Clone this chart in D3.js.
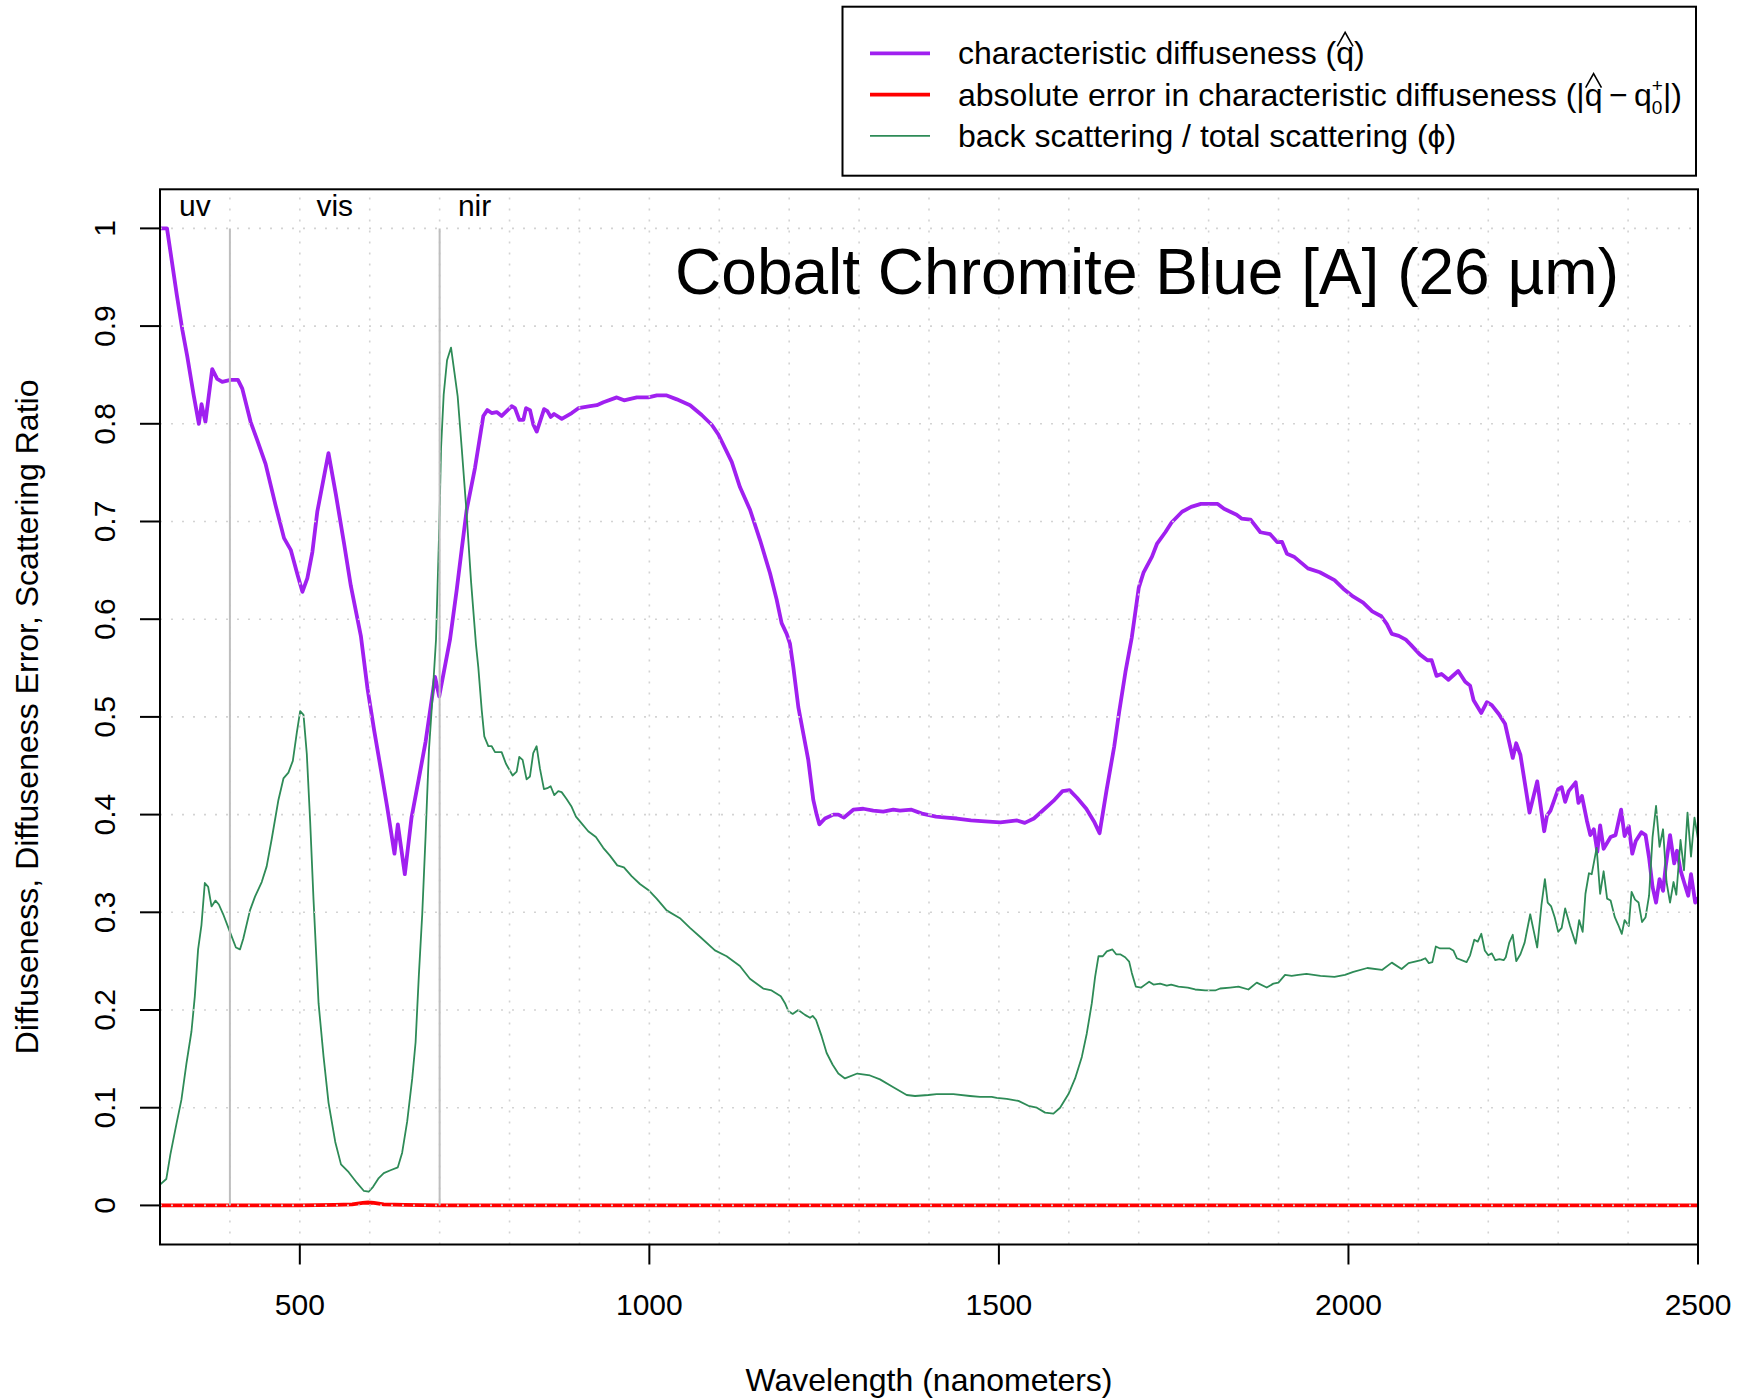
<!DOCTYPE html>
<html>
<head>
<meta charset="utf-8">
<script src="https://cdn.jsdelivr.net/npm/d3@7"></script>
<style>
  body { margin: 0; background: #ffffff; }
  text { font-family: "Liberation Sans", Arial, Helvetica, sans-serif; fill: #000; }
</style>
</head>
<body>
<svg id="chart" width="1745" height="1399"></svg>
<script>
// Characteristic diffuseness q-hat (wavelength in nm, value)
const qhatNm = [300, 310, 316, 324, 332, 339, 348, 355.6, 359.4, 365, 374.7, 381.8, 389, 401, 411.5, 417.7, 429.6, 439.2, 451, 465.5,
  477.4, 487, 496.5, 503.7, 510.8, 518, 525, 541, 551.5, 563.4, 573, 587.3, 596.8, 606.4, 616, 624.9, 635.4, 640.2, 650.2, 659.8,
  670.3, 680, 693.4, 699.4, 714.8, 724.4, 731.5, 738.7, 750.6, 762.5, 768.2, 774.4, 781.6, 788.8, 803.1, 807.8, 814, 819.8, 823.6, 829.3,
  834.1, 838.9, 849.4, 854.1, 859, 863.7, 874.7, 889, 898.5, 915.3, 924.8, 934.3, 953.4, 963.8, 982, 998.7, 1010.6, 1024.9, 1039.2, 1058.2,
  1074.9, 1089.2, 1098.7, 1117.8, 1129.7, 1144, 1158.3, 1172.6, 1182.1, 1189.2, 1196.4, 1201.1, 1205.9, 1213.1, 1220.2, 1227.3, 1234.5, 1239.3, 1243.1, 1251.2,
  1263.2, 1270.3, 1278.4, 1291.7, 1306, 1320.3, 1334.6, 1348.9, 1358.4, 1375, 1390, 1410, 1425, 1440, 1460, 1480, 1502, 1526, 1537, 1550,
  1564, 1578, 1591, 1601, 1612, 1625, 1636, 1644, 1654, 1665, 1672, 1681, 1690, 1700, 1707, 1719, 1726, 1738, 1747, 1762,
  1775, 1789, 1813, 1822, 1840, 1847, 1860, 1874, 1888, 1898, 1905, 1912, 1922, 1942, 1959, 1980, 1993, 2007, 2021, 2034,
  2047, 2055, 2062, 2072, 2082, 2089, 2102, 2113, 2119, 2126, 2133, 2143, 2157, 2167, 2174, 2179, 2190, 2198, 2205, 2215,
  2224, 2235, 2240, 2246, 2259, 2270, 2280, 2284, 2289, 2300, 2305, 2310, 2315, 2325, 2329, 2334, 2341, 2346, 2351, 2356,
  2360, 2365, 2375, 2382, 2390, 2395, 2401, 2406, 2411, 2419, 2425, 2430, 2435, 2440, 2445, 2450, 2454, 2460, 2466, 2470,
  2475, 2480, 2486, 2490, 2496, 2500];
const qhatVal = [1.0, 1.0, 0.971, 0.932, 0.896, 0.869, 0.830, 0.800, 0.820, 0.802, 0.856, 0.846, 0.843, 0.845, 0.845, 0.836, 0.802, 0.783, 0.759, 0.716,
  0.683, 0.671, 0.646, 0.628, 0.642, 0.669, 0.710, 0.770, 0.728, 0.677, 0.634, 0.583, 0.529, 0.486, 0.446, 0.408, 0.360, 0.390, 0.339, 0.397,
  0.437, 0.475, 0.541, 0.521, 0.579, 0.630, 0.671, 0.712, 0.755, 0.808, 0.814, 0.811, 0.812, 0.808, 0.818, 0.816, 0.804, 0.804, 0.816, 0.814,
  0.799, 0.792, 0.815, 0.813, 0.807, 0.810, 0.805, 0.811, 0.816, 0.818, 0.819, 0.822, 0.827, 0.824, 0.827, 0.827, 0.829, 0.829, 0.825, 0.819,
  0.809, 0.799, 0.789, 0.761, 0.735, 0.712, 0.681, 0.647, 0.620, 0.596, 0.585, 0.575, 0.551, 0.510, 0.483, 0.456, 0.415, 0.400, 0.390, 0.396,
  0.400, 0.400, 0.397, 0.405, 0.406, 0.404, 0.403, 0.405, 0.404, 0.405, 0.401, 0.398, 0.397, 0.396, 0.394, 0.393, 0.392, 0.394, 0.3915, 0.396,
  0.405, 0.414, 0.424, 0.425, 0.417, 0.406, 0.393, 0.381, 0.425, 0.470, 0.505, 0.546, 0.581, 0.632, 0.648, 0.664, 0.677, 0.689, 0.699, 0.710,
  0.715, 0.718, 0.718, 0.713, 0.707, 0.703, 0.702, 0.689, 0.687, 0.679, 0.679, 0.667, 0.664, 0.652, 0.648, 0.640, 0.631, 0.623, 0.617, 0.608,
  0.603, 0.595, 0.585, 0.583, 0.579, 0.574, 0.564, 0.558, 0.558, 0.542, 0.544, 0.538, 0.547, 0.536, 0.532, 0.517, 0.504, 0.515, 0.512, 0.503,
  0.493, 0.458, 0.473, 0.461, 0.402, 0.434, 0.383, 0.399, 0.404, 0.426, 0.428, 0.413, 0.424, 0.433, 0.412, 0.419, 0.394, 0.379, 0.385, 0.362,
  0.389, 0.365, 0.377, 0.379, 0.405, 0.378, 0.388, 0.360, 0.373, 0.382, 0.379, 0.356, 0.326, 0.310, 0.334, 0.322, 0.348, 0.379, 0.350, 0.363,
  0.343, 0.331, 0.317, 0.339, 0.310, 0.315];

// Absolute error in characteristic diffuseness
const errNm  = [300, 500, 550, 575, 590, 598, 606, 620, 650, 700, 2500];
const errVal = [0, 0, 0.0005, 0.001, 0.0025, 0.003, 0.0025, 0.001, 0.0005, 0, 0];

// Back scattering / total scattering ratio phi
const phiNm = [300.5, 309, 314.8, 323.4, 330.6, 337.8, 345, 349.8, 354.5, 359.3, 364.1, 368.9, 373.7, 379.4, 384.2, 390.4, 400, 408.6, 414.4, 419.1,
  428.7, 435.9, 445.5, 452.6, 459.8, 469.4, 476.6, 483.7, 490, 495.7, 500.5, 505.3, 510, 514.8, 519.6, 526.8, 534, 541.1, 550.7, 558.9,
  569.9, 581.8, 591.4, 598.6, 604.8, 612.9, 620.1, 629.7, 640.2, 646.4, 653.6, 660.8, 665.6, 670.3, 675.1, 679.9, 684.7, 689.5, 694.8, 699.6,
  702, 705.8, 710.6, 716.3, 721.1, 725.8, 731.6, 737.8, 745, 752, 755.3, 760.2, 763.9, 769.6, 774.5, 779.2, 788.7, 794.9, 804.4, 810.2,
  813.9, 818.7, 824.4, 829.2, 833.9, 838.7, 843.5, 849.2, 854, 858.8, 864, 869.7, 874.5, 881.6, 888.8, 895, 903.1, 912.5, 923.5, 934,
  943.6, 954.1, 963.6, 974.6, 986.5, 999.9, 1010.4, 1024.7, 1043.7, 1058.1, 1072.4, 1093.8, 1110.5, 1129.5, 1143.8, 1162.9, 1174.8, 1188, 1194, 1198.8,
  1205, 1213, 1222.6, 1229.8, 1233.6, 1238.3, 1246.5, 1253.6, 1262.2, 1270.3, 1279.8, 1297.4, 1315.6, 1329.9, 1349, 1368.1, 1380, 1399, 1411, 1434.8,
  1458.7, 1473, 1489.7, 1496.9, 1511.2, 1527.9, 1542.2, 1554.2, 1566.1, 1578, 1587.5, 1599.5, 1609, 1618.6, 1625.7, 1632.9, 1637.6, 1642.4, 1648.6, 1654.3,
  1662.4, 1667.7, 1673.5, 1680.6, 1686.3, 1690.1, 1695.8, 1703.5, 1709.2, 1714.9, 1721.1, 1730.6, 1740.1, 1746.4, 1756.8, 1770.2, 1780.7, 1795, 1809.3, 1816.4,
  1830.7, 1842.6, 1856.9, 1868.8, 1883.1, 1892.6, 1899.8, 1909.3, 1918.8, 1928.4, 1940, 1960, 1980, 1995, 2007, 2027, 2048, 2062, 2076, 2086,
  2098, 2104, 2110, 2115, 2120, 2125, 2131, 2145, 2150, 2155, 2169, 2174, 2180, 2185, 2190, 2195, 2200, 2205, 2210, 2216,
  2222, 2225, 2230, 2235, 2240, 2246, 2252, 2260, 2265, 2270, 2276, 2281, 2285, 2290, 2295, 2300, 2305, 2310, 2317, 2325,
  2330, 2335, 2339, 2344, 2348, 2355, 2360, 2365, 2370, 2375, 2381, 2386, 2391, 2395, 2401, 2405, 2410, 2415, 2420, 2425,
  2430, 2435, 2440, 2445, 2450, 2455, 2460, 2465, 2469, 2475, 2480, 2485, 2490, 2495, 2500];
const phiVal = [0.0215, 0.027, 0.052, 0.083, 0.108, 0.145, 0.178, 0.214, 0.262, 0.287, 0.330, 0.326, 0.306, 0.312, 0.308, 0.298, 0.280, 0.264, 0.262, 0.273,
  0.302, 0.316, 0.331, 0.347, 0.375, 0.415, 0.437, 0.443, 0.455, 0.484, 0.506, 0.502, 0.462, 0.393, 0.313, 0.207, 0.152, 0.105, 0.065, 0.042,
  0.034, 0.023, 0.015, 0.014, 0.019, 0.028, 0.033, 0.036, 0.039, 0.054, 0.086, 0.130, 0.167, 0.236, 0.298, 0.378, 0.466, 0.517, 0.579, 0.697,
  0.775, 0.830, 0.865, 0.878, 0.853, 0.828, 0.775, 0.716, 0.638, 0.574, 0.551, 0.507, 0.480, 0.470, 0.470, 0.464, 0.464, 0.452, 0.440, 0.444,
  0.459, 0.456, 0.436, 0.439, 0.463, 0.470, 0.447, 0.426, 0.427, 0.429, 0.420, 0.424, 0.423, 0.416, 0.408, 0.398, 0.391, 0.383, 0.377, 0.366,
  0.358, 0.348, 0.346, 0.337, 0.329, 0.322, 0.314, 0.302, 0.294, 0.284, 0.275, 0.261, 0.255, 0.245, 0.232, 0.222, 0.220, 0.214, 0.207, 0.199,
  0.196, 0.200, 0.195, 0.192, 0.194, 0.190, 0.173, 0.156, 0.144, 0.135, 0.130, 0.135, 0.133, 0.129, 0.121, 0.113, 0.112, 0.113, 0.114, 0.114,
  0.112, 0.111, 0.111, 0.110, 0.109, 0.107, 0.102, 0.100, 0.095, 0.094, 0.100, 0.114, 0.130, 0.152, 0.176, 0.207, 0.234, 0.255, 0.255, 0.260,
  0.262, 0.257, 0.257, 0.254, 0.2495, 0.238, 0.224, 0.223, 0.226, 0.229, 0.226, 0.227, 0.225, 0.226, 0.224, 0.223, 0.221, 0.220, 0.220, 0.222,
  0.223, 0.224, 0.221, 0.228, 0.223, 0.227, 0.228, 0.236, 0.235, 0.236, 0.237, 0.235, 0.234, 0.236, 0.239, 0.243, 0.241, 0.2485, 0.242, 0.248,
  0.250, 0.251, 0.253, 0.248, 0.249, 0.265, 0.263, 0.263, 0.261, 0.253, 0.249, 0.256, 0.272, 0.270, 0.278, 0.261, 0.256, 0.258, 0.251, 0.252,
  0.251, 0.254, 0.269, 0.277, 0.250, 0.257, 0.269, 0.298, 0.281, 0.264, 0.307, 0.334, 0.310, 0.306, 0.295, 0.280, 0.284, 0.304, 0.286, 0.268,
  0.292, 0.280, 0.319, 0.340, 0.339, 0.366, 0.319, 0.342, 0.314, 0.312, 0.295, 0.287, 0.278, 0.292, 0.286, 0.321, 0.313, 0.310, 0.290, 0.295,
  0.317, 0.377, 0.409, 0.367, 0.385, 0.331, 0.310, 0.331, 0.318, 0.374, 0.343, 0.402, 0.357, 0.397, 0.375];

// Axis ticks, grid and spectral region markers
const xTicks = [500, 1000, 1500, 2000, 2500];
const yTicks = [0, 0.1, 0.2, 0.3, 0.4, 0.5, 0.6, 0.7, 0.8, 0.9, 1];
const xGrid = d3.range(300, 2501, 100);
const yGrid = d3.range(0, 11).map(d => d / 10);
const regionBreaks = [400, 700];
const regionNames = ["uv", "vis", "nir"];
const regionCenters = [350, 550, 750];

const titleText = "Cobalt Chromite Blue [A] (26 \u00B5m)";
const xLabel = "Wavelength (nanometers)";
const yLabel = "Diffuseness, Diffuseness Error, Scattering Ratio";

const COL_Q = "#A020F0", COL_ERR = "#FF0000", COL_PHI = "#2E8B57";

const svg = d3.select("#chart");
const pL = 160, pR = 1698, pT = 189.3, pB = 1244.5;
const x = d3.scaleLinear().domain([300, 2500]).range([pL, pR]);
const y = d3.scaleLinear().domain([-0.04, 1.04]).range([pB, pT]);

svg.append("rect").attr("width", 1745).attr("height", 1399).attr("fill", "#fff");

svg.append("clipPath").attr("id", "plotclip")
  .append("rect").attr("x", pL).attr("y", pT).attr("width", pR - pL).attr("height", pB - pT);

const plot = svg.append("g").attr("clip-path", "url(#plotclip)");
const line = d3.line().x(d => x(d[0])).y(d => y(d[1]));
const zip = (a, b) => a.map((v, i) => [v, b[i]]);

// series
plot.append("path").datum(zip(qhatNm, qhatVal)).attr("d", line)
  .attr("fill", "none").attr("stroke", COL_Q).attr("stroke-width", 3.8).attr("stroke-linejoin", "round");
plot.append("path").datum(zip(errNm, errVal)).attr("d", line)
  .attr("fill", "none").attr("stroke", COL_ERR).attr("stroke-width", 3.8);
plot.append("path").datum(zip(phiNm, phiVal)).attr("d", line)
  .attr("fill", "none").attr("stroke", COL_PHI).attr("stroke-width", 1.8).attr("stroke-linejoin", "round");

// dotted grid
plot.selectAll(".gx").data(xGrid).join("line")
  .attr("x1", d => x(d)).attr("x2", d => x(d)).attr("y1", pB).attr("y2", pT)
  .attr("stroke", "#D3D3D3").attr("stroke-width", 1.6).attr("stroke-dasharray", "2,9");
plot.selectAll(".gy").data(yGrid).join("line")
  .attr("y1", d => y(d)).attr("y2", d => y(d)).attr("x1", pL).attr("x2", pR)
  .attr("stroke", "#D3D3D3").attr("stroke-width", 1.6).attr("stroke-dasharray", "2,9");

// region boundaries
plot.selectAll(".rb").data(regionBreaks).join("line")
  .attr("x1", d => x(d)).attr("x2", d => x(d)).attr("y1", y(0)).attr("y2", y(1))
  .attr("stroke", "#BEBEBE").attr("stroke-width", 2);

svg.selectAll(".rl").data(regionNames).join("text")
  .attr("x", (d, i) => x(regionCenters[i])).attr("y", 216)
  .attr("text-anchor", "middle").style("font-size", "30px").text(d => d);

// frame
svg.append("rect").attr("x", pL).attr("y", pT).attr("width", pR - pL).attr("height", pB - pT)
  .attr("fill", "none").attr("stroke", "#000").attr("stroke-width", 2);

// x axis
svg.selectAll(".xt").data(xTicks).join("line")
  .attr("x1", d => x(d)).attr("x2", d => x(d)).attr("y1", pB).attr("y2", pB + 20)
  .attr("stroke", "#000").attr("stroke-width", 2);
svg.selectAll(".xtl").data(xTicks).join("text")
  .attr("x", d => x(d)).attr("y", 1315).attr("text-anchor", "middle")
  .style("font-size", "30px").text(d => d);
svg.append("text").attr("x", (pL + pR) / 2).attr("y", 1391).attr("text-anchor", "middle")
  .style("font-size", "32px").text(xLabel);

// y axis
svg.selectAll(".yt").data(yTicks).join("line")
  .attr("x1", pL - 20).attr("x2", pL).attr("y1", d => y(d)).attr("y2", d => y(d))
  .attr("stroke", "#000").attr("stroke-width", 2);
svg.selectAll(".ytl").data(yTicks).join("text")
  .attr("transform", d => `translate(114.5,${y(d)}) rotate(-90)`).attr("text-anchor", "middle")
  .style("font-size", "30px").text(d => d3.format("~g")(d));
svg.append("text").attr("transform", `translate(37.5,${(pT + pB) / 2}) rotate(-90)`)
  .attr("text-anchor", "middle").style("font-size", "32px").text(yLabel);

// title
svg.append("text").attr("x", 1147).attr("y", 294).attr("text-anchor", "middle")
  .style("font-size", "64px").text(titleText);

// legend
const lg = svg.append("g");
lg.append("rect").attr("x", 842.5).attr("y", 6.7).attr("width", 853.5).attr("height", 169)
  .attr("fill", "#fff").attr("stroke", "#000").attr("stroke-width", 2);

// lays out a run of text pieces left to right; "stack" pieces share x with the next one
function richText(g, x0, yb, parts, fs) {
  let cx = x0, stackW = 0;
  parts.forEach(p => {
    const size = p.size || fs;
    const t = g.append("text").attr("x", cx).attr("y", yb + (p.dy || 0))
      .style("font-size", size + "px").text(p.t);
    const w = t.node().getComputedTextLength();
    if (p.hat) {
      const hx0 = cx + 1, hx1 = cx + w - 1;
      g.append("path")
        .attr("d", `M${hx0},${yb - 18} L${(hx0 + hx1) / 2},${yb - 32} L${hx1},${yb - 18}`)
        .attr("fill", "none").attr("stroke", "#000").attr("stroke-width", 1.6);
    }
    if (p.stack) { stackW = w; }
    else { cx += Math.max(w, stackW); stackW = 0; }
  });
}

const legendRows = [
  { color: COL_Q, width: 3.8, parts: [{ t: "characteristic diffuseness (" }, { t: "q", hat: true }, { t: ")" }] },
  { color: COL_ERR, width: 3.8, parts: [{ t: "absolute error in characteristic diffuseness (|" }, { t: "q", hat: true },
      { t: "\u2009\u2212\u2009q" }, { t: "0", size: 19, dy: 8, stack: true }, { t: "+", size: 19, dy: -14 }, { t: "|)" }] },
  { color: COL_PHI, width: 1.8, parts: [{ t: "back scattering / total scattering (\u03D5)" }] }
];
const rowY = [53.4, 94.6, 135.8];
legendRows.forEach((r, i) => {
  lg.append("line").attr("x1", 870).attr("x2", 930).attr("y1", rowY[i]).attr("y2", rowY[i])
    .attr("stroke", r.color).attr("stroke-width", r.width);
  richText(lg, 958, rowY[i] + 11, r.parts, 32);
});
</script>
</body>
</html>
